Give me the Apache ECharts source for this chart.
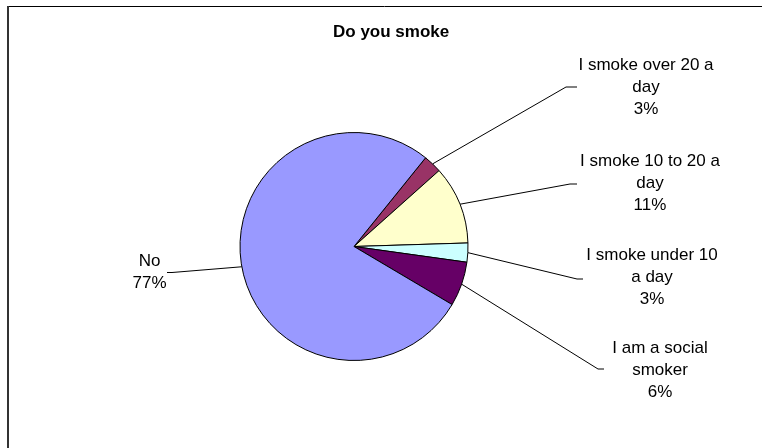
<!DOCTYPE html>
<html>
<head>
<meta charset="utf-8">
<style>
  html, body { margin: 0; padding: 0; background: #ffffff; }
  #chart { width: 762px; height: 448px; }
</style>
<script src="https://cdn.jsdelivr.net/npm/echarts@6/dist/echarts.min.js"></script>
</head>
<body>
<div id="chart"></div>
<script>
// ---- data ----
const titleText = 'Do you smoke';
const categories = [
  'I smoke over 20 a day',
  'I smoke 10 to 20 a day',
  'I smoke under 10 a day',
  'I am a social smoker',
  'No'
];
const wrappedNames = [
  'I smoke over 20 a\nday',
  'I smoke 10 to 20 a\nday',
  'I smoke under 10\na day',
  'I am a social\nsmoker',
  'No'
];
const values = [2.6, 11.1, 2.7, 6.3, 77.3];
const sliceColors = ['#993366', '#FFFFCC', '#CCFFFF', '#660066', '#9999FF'];

// ---- label layout (positions of label blocks and leader-line elbows) ----
const labelCenters = [[646, 87.5], [650, 183], [652, 277.5], [660, 370], [149.5, 272.5]];
const leaderElbows = [[[566, 87], [577, 87]], [[570, 184], [577, 184]], [[577, 279], [583, 279]], [[598, 369], [604, 369]], [[172, 272.5], [167, 272.5]]];

const chart = echarts.init(document.getElementById('chart'), null, { renderer: 'canvas' });

const data = categories.map((c, i) => ({
  name: c,
  value: values[i],
  itemStyle: { color: sliceColors[i] }
}));

chart.setOption({
  backgroundColor: '#ffffff',
  animation: false,
  title: {
    text: titleText,
    left: 328,
    top: 19,
    textStyle: {
      fontFamily: 'Liberation Sans, Arial, sans-serif',
      fontSize: 17,
      fontWeight: 'bold',
      color: '#000000'
    }
  },
  graphic: [
    { type: 'line', shape: { x1: 7, y1: 6.5, x2: 762, y2: 6.5 }, style: { stroke: '#000', lineWidth: 1 }, silent: true },
    { type: 'line', shape: { x1: 8, y1: 6, x2: 8, y2: 448 }, style: { stroke: '#333', lineWidth: 2 }, silent: true }
  ],
  series: [{
    type: 'pie',
    center: [354, 246.5],
    radius: 114,
    startAngle: 51.1,
    clockwise: true,
    data: data,
    itemStyle: { borderColor: '#000000', borderWidth: 1 },
    emphasis: { disabled: true },
    label: {
      show: true,
      position: 'outside',
      formatter: function (p) {
        return wrappedNames[p.dataIndex] + '\n' + Math.round(p.percent) + '%';
      },
      fontFamily: 'Liberation Sans, Arial, sans-serif',
      fontSize: 17,
      lineHeight: 22,
      color: '#000000',
      align: 'center'
    },
    labelLine: {
      show: true,
      length: 20,
      length2: 10,
      lineStyle: { color: '#000000', width: 1 }
    },
    labelLayout: function (params) {
      const i = params.dataIndex;
      const pts = params.labelLinePoints;
      const start = pts ? pts[0] : null;
      const out = {
        x: labelCenters[i][0],
        y: labelCenters[i][1],
        align: 'center',
        verticalAlign: 'middle'
      };
      if (start) {
        out.labelLinePoints = [start, leaderElbows[i][0], leaderElbows[i][1]];
      }
      return out;
    }
  }]
});
</script>
</body>
</html>
